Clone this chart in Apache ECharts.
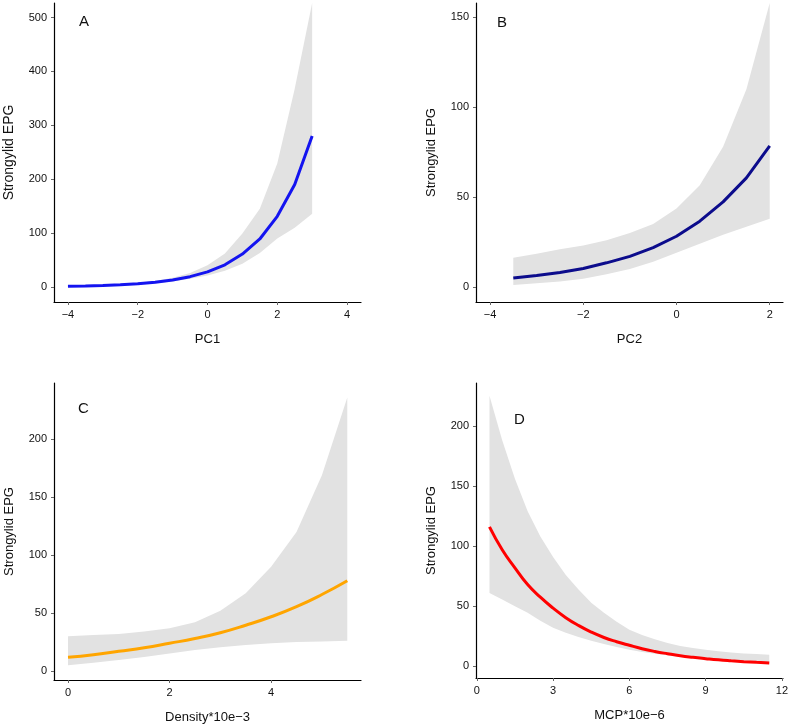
<!DOCTYPE html>
<html>
<head>
<meta charset="utf-8">
<script src="https://cdn.jsdelivr.net/npm/echarts@6/dist/echarts.min.js"></script>
<style>
  html, body { margin: 0; padding: 0; background: #fff; }
  #chart { width: 790px; height: 728px; }
</style>
</head>
<body>
<div id="chart"></div>
<script>
// panel A: PC1
const aX = [-4, -3.5, -3, -2.5, -2, -1.5, -1, -0.5, 0, 0.5, 1, 1.5, 2, 2.5, 3]
const aFit = [1.3, 1.9, 2.8, 4.1, 6.0, 8.8, 13, 19, 28, 41, 61, 89, 131, 190, 280]
const aUpper = [1.6, 2.3, 3.3, 5, 7.5, 11, 17, 26, 40, 62, 99, 145, 229, 368, 527]
const aLower = [1.0, 1.5, 2.2, 3.3, 4.8, 7, 10, 15, 21, 30, 43, 63, 90, 110, 136]

// panel B: PC2
const bX = [-3.5, -3, -2.5, -2, -1.5, -1, -0.5, 0, 0.5, 1, 1.5, 2]
const bFit = [5.0, 6.3, 8.0, 10.2, 13.4, 17, 21.9, 28.2, 36.6, 47.3, 60.7, 78.5]
const bUpper = [16.2, 18.5, 21, 23, 26, 30, 35, 43.6, 56.6, 78, 110, 158]
const bLower = [1, 2, 3, 4.5, 7, 10, 14, 19, 24, 29, 33.5, 38]

// panel C: density
const cX = [0, 0.5, 1, 1.5, 2, 2.5, 3, 3.5, 4, 4.5, 5, 5.5]
const cFit = [11.8, 14, 17, 20, 23.9, 28, 33, 39.5, 46.8, 55.5, 66, 77.9]
const cUpper = [30, 31, 32, 34, 36.8, 42, 52, 67, 90, 120, 169, 236]
const cLower = [5, 7, 9.5, 12, 15, 18, 20.4, 22.5, 24, 25, 25.5, 26]

// panel D: MCP
const dX = [0.5, 1, 1.5, 2, 2.5, 3, 3.5, 4, 4.5, 5, 5.5, 6, 6.5, 7, 7.5, 8, 8.5, 9, 9.5, 10, 10.5, 11, 11.5]
const dFit = [116, 97, 82, 68, 57.5, 48.4, 40.5, 34, 28.5, 24, 20.5, 17.5, 14.7, 12.4, 10.5, 8.8, 7.5, 6.4, 5.4, 4.6, 3.9, 3.3, 2.8]
const dUpper = [225, 188, 156, 129, 108, 91, 76, 64, 53, 44.5, 37, 30.5, 26, 22.5, 19.5, 17, 15.3, 13.8, 12.5, 11.5, 10.7, 10.2, 9.7]
const dLower = [61, 55.5, 50, 44.5, 38, 32, 28, 24.5, 21.2, 18.5, 16, 13.8, 12, 10.5, 9.2, 8, 7, 6, 5, 4.2, 3.4, 2.8, 2.2]

// tick labels
const aXTicks = [-4, -2, 0, 2, 4]
const aYTicks = [0, 100, 200, 300, 400, 500]
const bXTicks = [-4, -2, 0, 2]
const bYTicks = [0, 50, 100, 150]
const cXTicks = [0, 2, 4]
const cYTicks = [0, 50, 100, 150, 200]
const dXTicks = [0, 3, 6, 9, 12]
const dYTicks = [0, 50, 100, 150, 200]

const panelLetters = ['A', 'B', 'C', 'D']
const xNames = ['PC1', 'PC2', 'Density*10e\u22123', 'MCP*10e\u22126']
const yName = 'Strongylid EPG'

const fontFamily = '"Liberation Sans", Arial, sans-serif'
const bandColor = '#e2e2e2'

const panels = [
  { x: aX, fit: aFit, upper: aUpper, lower: aLower, xTicks: aXTicks, yTicks: aYTicks,
    xMin: -4.4, xMax: 4.4, yMin: -28, yMax: 527, color: '#1414f0', smooth: false,
    grid: { left: 54, top: 3, width: 307, height: 299 }, title: { left: 79, top: 14 } },
  { x: bX, fit: bFit, upper: bUpper, lower: bLower, xTicks: bXTicks, yTicks: bYTicks,
    xMin: -4.3, xMax: 2.285, yMin: -8.4, yMax: 158, color: '#0c0c8c', smooth: false,
    grid: { left: 476, top: 3, width: 307, height: 299 }, title: { left: 497, top: 15 } },
  { x: cX, fit: cFit, upper: cUpper, lower: cLower, xTicks: cXTicks, yTicks: cYTicks,
    xMin: -0.276, xMax: 5.77, yMin: -7.8, yMax: 248.6, color: '#ffa500', smooth: true,
    grid: { left: 54, top: 383, width: 307, height: 297 }, title: { left: 78, top: 401 } },
  { x: dX, fit: dFit, upper: dUpper, lower: dLower, xTicks: dXTicks, yTicks: dYTicks,
    xMin: -0.03, xMax: 12.04, yMin: -9.7, yMax: 235.7, color: '#ff0000', smooth: true,
    grid: { left: 476, top: 383, width: 307, height: 295 }, title: { left: 514, top: 412 } }
]

function minusFormat(v) {
  return String(v).replace('-', '\u2212')
}

function axisBase(ticks) {
  return {
    axisLine: { show: true, onZero: false, lineStyle: { color: '#000', width: 1.2 } },
    axisTick: { show: true, inside: false, length: 3, customValues: ticks, lineStyle: { color: '#666' } },
    axisLabel: { customValues: ticks, formatter: minusFormat, color: '#111', fontSize: 11, fontFamily, margin: 7 },
    splitLine: { show: false }
  }
}

// confidence band as one polygon, built from the data through api.coord
function bandRenderer(params, api) {
  if (params.dataIndex !== 0) {
    return null
  }
  const count = params.dataInsideLength
  const top = []
  const bottom = []
  for (let k = 0; k < count; k++) {
    const x = api.value(0, k)
    top.push(api.coord([x, api.value(2, k)]))
    bottom.push(api.coord([x, api.value(1, k)]))
  }
  return {
    type: 'polygon',
    shape: { points: top.concat(bottom.reverse()) },
    style: { fill: bandColor },
    silent: true
  }
}

const grids = []
const xAxes = []
const yAxes = []
const titles = []
const series = []

panels.forEach((p, i) => {
  grids.push({ ...p.grid, outerBoundsMode: 'none', containLabel: false })
  titles.push({
    text: panelLetters[i],
    left: p.title.left,
    top: p.title.top,
    padding: 0,
    textStyle: { fontSize: 15, fontWeight: 'normal', color: '#111', fontFamily }
  })
  xAxes.push({
    type: 'value', gridIndex: i, min: p.xMin, max: p.xMax,
    name: xNames[i], nameLocation: 'middle', nameGap: 31,
    nameTextStyle: { fontSize: 13, color: '#111', fontFamily },
    ...axisBase(p.xTicks)
  })
  yAxes.push({
    type: 'value', gridIndex: i, min: p.yMin, max: p.yMax,
    name: yName, nameLocation: 'middle', nameRotate: 90, nameGap: 38,
    nameTextStyle: { fontSize: i === 0 ? 14 : 13, color: '#111', fontFamily },
    ...axisBase(p.yTicks)
  })

  series.push({
    type: 'custom', xAxisIndex: i, yAxisIndex: i,
    renderItem: bandRenderer,
    encode: { x: 0, y: [1, 2] },
    data: p.x.map((x, k) => [x, p.lower[k], p.upper[k]]),
    clip: true, silent: true, z: 1
  })
  series.push({
    type: 'line', xAxisIndex: i, yAxisIndex: i,
    data: p.x.map((x, k) => [x, p.fit[k]]),
    symbol: 'none', smooth: p.smooth,
    lineStyle: { color: p.color, width: 3 }, z: 3
  })
})

const chart = echarts.init(document.getElementById('chart'))
chart.setOption({
  animation: false,
  backgroundColor: '#fff',
  title: titles,
  grid: grids,
  xAxis: xAxes,
  yAxis: yAxes,
  series
})
</script>
</body>
</html>
